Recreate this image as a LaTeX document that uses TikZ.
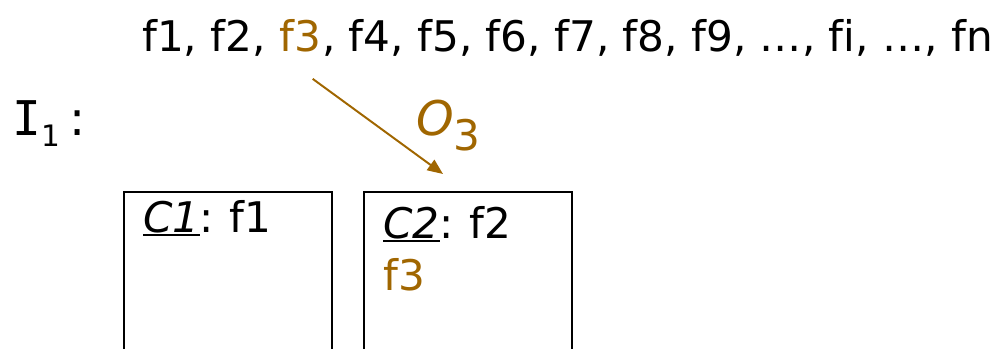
\documentclass[tikz,border=0pt]{standalone}
\usepackage{fontspec}
\setmainfont[Ligatures=NoCommon]{DejaVu Sans}
\newfontfamily\itermono{DejaVu Sans Mono}
\usetikzlibrary{arrows.meta, positioning, calc}
\definecolor{opbrown}{RGB}{160,102,0}
\newsavebox{\clsbox}
\newcommand{\clsname}[1]{\sbox{\clsbox}{\textit{#1}}\rlap{\rule[-3pt]{\wd\clsbox}{1.4pt}}\usebox{\clsbox}}

\begin{document}
\begin{tikzpicture}[
        x=0.025cm, y=-0.025cm,
        word/.style={inner sep=0pt, anchor=base west, font=\fontsize{30}{36}\selectfont},
        big/.style={inner sep=0pt, anchor=base west, font=\fontsize{34}{40}\selectfont},
        cluster/.style={draw, line width=1.4pt, anchor=north west, minimum width=5.2cm, minimum height=5cm},
        opmove/.style={-{Triangle[length=11pt,width=9pt]}, line width=1.4pt, opbrown}
    ]
        \useasboundingbox (0,0) rectangle (997,348);

        % Sequence of files
        \node[word] (fleft) at (142,52) {f1, f2,\kern.318em};
        \node[word, text=opbrown] (f3) at (fleft.base east) {f3};
        \node[word] (fright) at (f3.base east) {, f4, f5, f6, f7, f8, f9, …, f\kern0pt i, …, fn};

        % Iteration label
        \node[big] (iter) at (12,135) {{\itermono I}\raisebox{-8.5pt}{\fontsize{21}{24}\selectfont 1}\kern7pt:};

        % Clusters
        \node[cluster] (c1box) at (123,191) {};
        \node[cluster] (c2box) at (363,191) {};
        \node[word] (c1head) at (143,232) {\clsname{C1}:\kern11pt f1};
        \node[word] (c2head) at (383,238) {\clsname{C2}:\kern11pt f2};
        \node[word, text=opbrown] (c2f3) at (383,290) {f3};

        % Operation O3
        \coordinate (o3tip) at ([shift={(80,-17)}]c2box.north west);
        \draw[opmove] ([shift={(12,26)}]f3.south) -- (o3tip);
        \node[big, text=opbrown] (o3) at (416,135) {\textit{O}\raisebox{-11pt}{\fontsize{30}{36}\selectfont 3}};
\end{tikzpicture}
\end{document}
